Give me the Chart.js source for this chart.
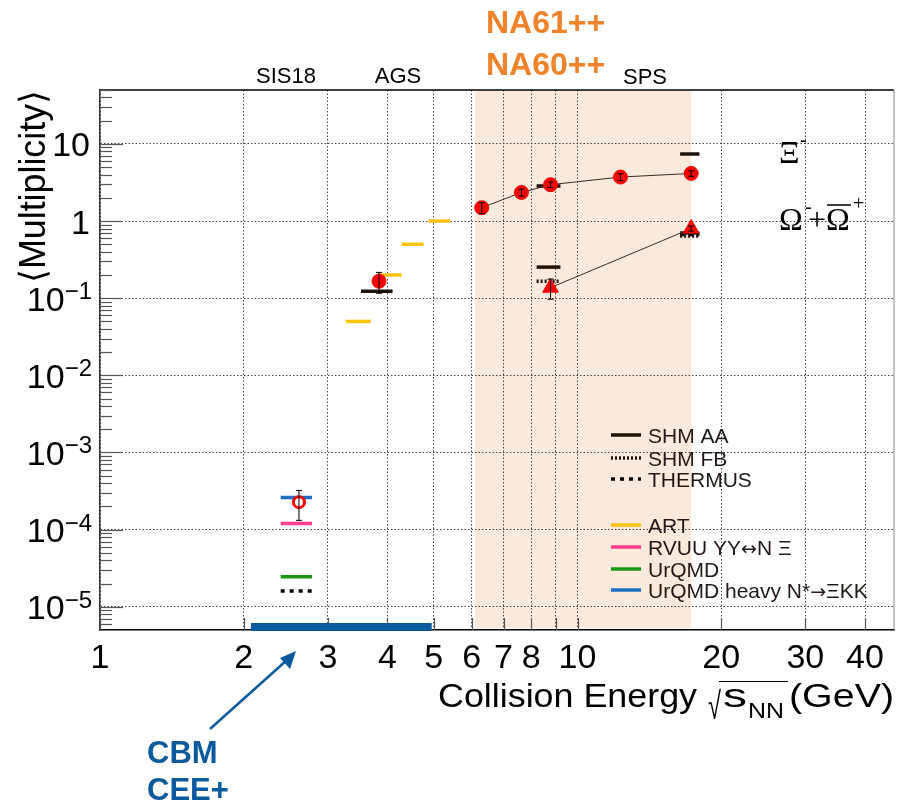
<!DOCTYPE html>
<html>
<head>
<meta charset="utf-8">
<script src="https://cdn.jsdelivr.net/npm/chart.js@4.4.1/dist/chart.umd.min.js"></script>
<style>
html, body { margin: 0; padding: 0; background: #fff; }
#wrap { position: relative; width: 899px; height: 802px; }
</style>
</head>
<body>
<div id="wrap"><canvas id="toile" width="899" height="802"></canvas></div>
<script>
// axis ticks
const xTicks = [1, 2, 3, 4, 5, 6, 7, 8, 9, 10, 20, 30, 40]
const xLabels = ['1', '2', '3', '4', '5', '6', '7', '8', '', '10', '20', '30', '40']
const yDecades = [-5, -4, -3, -2, -1, 0, 1]
const yLabels = ['10', '10', '10', '10', '10', '1', '10']
const ySup = ['\u22125', '\u22124', '\u22123', '\u22122', '\u22121', '', '']

// Xi- measurements (SPS), AGS, SIS18
const xiEnergy = [6.30, 7.63, 8.78, 12.3, 17.3]
const xiValue = [1.49, 2.35, 2.96, 3.72, 4.14]
const xiError = [0.24, 0.25, 0.24, 0.38, 0.34]
const agsEnergy = [3.84]
const agsValue = [0.166]
const agsError = [0.05]
const sisEnergy = [2.61]
const sisValue = [2.27e-4]
const sisError = [0.95e-4]

// Omega- + anti-Omega+ measurements
const omEnergy = [8.78, 17.3]
const omValue = [0.137, 0.80]
const omError = [0.04, 0.06]

// model predictions: [energy from, energy to, multiplicity]
const shmAA = [[3.52, 4.10, 0.123], [8.21, 9.21, 2.85], [16.4, 18.0, 7.4], [8.21, 9.21, 0.253], [16.4, 18.0, 0.70]]
const shmFB = [[8.21, 9.21, 0.166], [16.4, 18.0, 0.64]]
const thermus = [[2.39, 2.78, 1.6e-5], [16.4, 18.0, 0.67]]
const art = [[3.27, 3.69, 0.05], [3.83, 4.28, 0.2], [4.28, 4.76, 0.5], [4.88, 5.42, 1.0]]
const rvuu = [[2.39, 2.78, 1.2e-4]]
const urqmd = [[2.39, 2.78, 2.45e-5]]
const urqmdHeavy = [[2.39, 2.78, 2.6e-4]]

// energy ranges of facilities
const spsRange = [6.1, 17.3]
const cbmRange = [2.07, 4.95]

const SANS = '"Liberation Sans", Arial, sans-serif'
const SERIF = '"Liberation Serif", "Times New Roman", serif'
const RED = '#ff0000'
const BLACK_M = '#1e120b'

const pts = (xs, ys) => xs.map((x, i) => ({ x: x, y: ys[i] }))

const segs = (list, color, dash, width) => list.map(s => ({
  data: [{ x: s[0], y: s[2] }, { x: s[1], y: s[2] }],
  showLine: true,
  borderColor: color,
  borderWidth: width,
  borderDash: dash,
  borderCapStyle: 'butt',
  pointRadius: 0,
  order: 3
}))

const datasets = [
  { data: pts(xiEnergy, xiValue), pointRadius: 7, backgroundColor: RED, borderColor: RED, order: 0 },
  { data: pts(agsEnergy, agsValue), pointRadius: 7, backgroundColor: RED, borderColor: RED, order: 0 },
  { data: pts(sisEnergy, sisValue), pointRadius: 5.5, backgroundColor: '#fff', borderColor: RED, borderWidth: 3, order: 0 },
  { data: pts(omEnergy, omValue), pointStyle: 'triangle', pointRadius: 9, backgroundColor: RED, borderColor: RED, order: 0 },
  { data: pts(xiEnergy, xiValue), showLine: true, pointRadius: 0, borderColor: '#3b2b22', borderWidth: 1, order: 2 },
  { data: pts(omEnergy, omValue), showLine: true, pointRadius: 0, borderColor: '#3b2b22', borderWidth: 1, order: 2 },
  ...segs(shmAA, BLACK_M, [], 3.5),
  ...segs(shmFB, BLACK_M, [2, 2], 3.5),
  ...segs(thermus, '#000', [4, 5], 3.5),
  ...segs(art, '#ffc20e', [], 3.5),
  ...segs(rvuu, '#ff3d8e', [], 3.5),
  ...segs(urqmd, '#17970f', [], 3.5),
  ...segs(urqmdHeavy, '#1f6fc4', [], 3.5)
]

// draws text stretched to a given width
function fitText(ctx, text, x, y, width) {
  const w = ctx.measureText(text).width
  ctx.save()
  ctx.translate(x, y)
  ctx.scale(width / w, 1)
  ctx.fillText(text, 0, 0)
  ctx.restore()
}

// legend text, arrows taken from DejaVu so they are full size
function legendText(ctx, text, x, y) {
  const parts = text.split(/([\u2190-\u21FF])/)
  parts.forEach(p => {
    if (!p) return
    ctx.font = /[\u2190-\u21FF]/.test(p) ? '19px "DejaVu Sans"' : '21px ' + SANS
    ctx.fillText(p, x, y)
    x += ctx.measureText(p).width
  })
}

const decor = {
  id: 'decor',
  beforeDraw(chart) {
    const { ctx, chartArea: a, scales: { x } } = chart
    ctx.save()
    ctx.fillStyle = '#fbe9dc'
    const x0 = x.getPixelForValue(spsRange[0]), x1 = x.getPixelForValue(spsRange[1])
    ctx.fillRect(x0, a.top, x1 - x0, a.bottom - a.top - 2)
    ctx.restore()
  },
  afterDatasetsDraw(chart) {
    const { ctx, scales: { x, y } } = chart
    ctx.save()
    ctx.strokeStyle = '#000'
    ctx.lineWidth = 1
    const bars = (xs, ys, es) => xs.forEach((e, i) => {
      const px = x.getPixelForValue(e)
      const top = y.getPixelForValue(ys[i] + es[i]), bot = y.getPixelForValue(ys[i] - es[i])
      ctx.beginPath()
      ctx.moveTo(px, top); ctx.lineTo(px, bot)
      ctx.moveTo(px - 3, top); ctx.lineTo(px + 3, top)
      ctx.moveTo(px - 3, bot); ctx.lineTo(px + 3, bot)
      ctx.stroke()
    })
    bars(xiEnergy, xiValue, xiError)
    bars(agsEnergy, agsValue, agsError)
    bars(sisEnergy, sisValue, sisError)
    bars(omEnergy, omValue, omError)
    ctx.restore()
  },
  afterDraw(chart) {
    const { ctx, chartArea: a, scales: { x, y } } = chart
    ctx.save()

    // frame top/right
    ctx.strokeStyle = '#000'
    ctx.lineWidth = 1.5
    ctx.beginPath(); ctx.moveTo(a.left, a.top); ctx.lineTo(a.right, a.top); ctx.stroke()
    ctx.strokeStyle = '#888'
    ctx.lineWidth = 1
    ctx.beginPath(); ctx.moveTo(a.right, a.top); ctx.lineTo(a.right, a.bottom); ctx.stroke()

    // y ticks, major and minor
    ctx.strokeStyle = '#555'
    ctx.lineWidth = 1.2
    for (let e = -6; e <= 1; e++) {
      for (let m = 1; m <= 9; m++) {
        const v = m * Math.pow(10, e)
        if (v < y.min || v > y.max) continue
        const py = Math.round(y.getPixelForValue(v)) + 0.5
        ctx.beginPath()
        ctx.moveTo(a.left, py); ctx.lineTo(a.left + (m === 1 ? 23 : 12), py)
        ctx.stroke()
      }
    }
    // x ticks
    xTicks.forEach(v => {
      const px = Math.round(x.getPixelForValue(v)) + 0.5
      ctx.beginPath(); ctx.moveTo(px, a.bottom); ctx.lineTo(px, a.bottom - 12); ctx.stroke()
    })

    // y tick labels with exponents
    ctx.fillStyle = '#000'
    ctx.textBaseline = 'alphabetic'
    yDecades.forEach((e, i) => {
      const py = y.getPixelForValue(Math.pow(10, e))
      ctx.font = '24px ' + SANS
      const ws = ySup[i] ? ctx.measureText(ySup[i]).width : 0
      ctx.font = '34px ' + SANS
      const wm = ctx.measureText(yLabels[i]).width
      const right = ySup[i] ? 92 : 90
      ctx.textAlign = 'left'
      ctx.fillText(yLabels[i], right - ws - wm, py + 12.5)
      if (ySup[i]) {
        ctx.font = '24px ' + SANS
        ctx.fillText(ySup[i], right - ws, py + 1)
      }
    })

    // axis titles
    ctx.font = '36px ' + SANS
    ctx.save()
    ctx.translate(45, 283)
    ctx.rotate(-Math.PI / 2)
    fitText(ctx, '\u27E8Multiplicity\u27E9', 0, 0, 193)
    ctx.restore()

    ctx.font = '34px ' + SANS
    fitText(ctx, 'Collision Energy', 438, 707, 259)
    fitText(ctx, 's', 723, 707, 24)
    fitText(ctx, '(GeV)', 789, 707, 105)
    ctx.font = '22px ' + SANS
    fitText(ctx, 'NN', 748, 718, 36)
    ctx.font = '200 38px "DejaVu Sans", ' + SANS
    fitText(ctx, '\u221A', 708, 719, 13)
    ctx.lineWidth = 1
    ctx.strokeStyle = '#000'
    ctx.beginPath(); ctx.moveTo(719, 681.5); ctx.lineTo(788, 681.5); ctx.stroke()

    // facility labels
    ctx.font = '22px ' + SANS
    ctx.textAlign = 'center'
    ctx.fillText('SIS18', 286, 83)
    ctx.fillText('AGS', 398, 83)
    ctx.fillText('SPS', 645, 84)
    ctx.textAlign = 'left'
    ctx.fillStyle = '#f0822a'
    ctx.font = 'bold 32px ' + SANS
    ctx.fillText('NA61++', 486, 33)
    ctx.fillText('NA60++', 486, 75)

    // particle labels
    ctx.fillStyle = '#000'
    ctx.font = '32px ' + SERIF
    ctx.fillText('\u039E', 779, 163)
    ctx.fillText('\u03A9', 779, 230)
    ctx.fillText('+', 808, 230)
    ctx.fillText('\u03A9', 826, 230)
    ctx.font = '20px ' + SERIF
    ctx.fillText('-', 800, 146)
    ctx.fillText('-', 805, 213)
    ctx.fillText('+', 853, 210)
    ctx.lineWidth = 1.5
    ctx.beginPath(); ctx.moveTo(827, 205); ctx.lineTo(851, 205); ctx.stroke()

    // legend
    const legend = [
      ['SHM AA', BLACK_M, [], 435],
      ['SHM FB', BLACK_M, [2, 2], 458],
      ['THERMUS', '#000', [4, 5], 479],
      ['ART', '#ffc20e', [], 525],
      ['RVUU YY\u2194N \u039E', '#ff3d8e', [], 547],
      ['UrQMD', '#17970f', [], 569],
      ['UrQMD heavy N*\u2192\u039EKK', '#1f6fc4', [], 590]
    ]
    legend.forEach(l => {
      ctx.strokeStyle = l[1]
      ctx.setLineDash(l[2])
      ctx.lineWidth = 3.5
      ctx.beginPath(); ctx.moveTo(611, l[3]); ctx.lineTo(641, l[3]); ctx.stroke()
      ctx.setLineDash([])
      ctx.fillStyle = '#231815'
      legendText(ctx, l[0], 648, l[3] + 7.5)
    })

    // CBM / CEE+ energy range
    ctx.fillStyle = '#0b5a9d'
    const c0 = x.getPixelForValue(cbmRange[0]), c1 = x.getPixelForValue(cbmRange[1])
    ctx.fillRect(c0, a.bottom - 7, c1 - c0, 8)
    ctx.strokeStyle = '#0b5a9d'
    ctx.lineWidth = 2.5
    ctx.beginPath(); ctx.moveTo(210, 729); ctx.lineTo(287, 660); ctx.stroke()
    ctx.beginPath()
    ctx.moveTo(296, 651); ctx.lineTo(280, 658); ctx.lineTo(290, 669); ctx.closePath(); ctx.fill()
    ctx.font = 'bold 31px ' + SANS
    ctx.fillText('CBM', 147, 763)
    ctx.fillText('CEE+', 147, 800)

    ctx.restore()
  }
}

new Chart(document.getElementById('toile'), {
  type: 'scatter',
  data: { datasets: datasets },
  options: {
    responsive: false,
    devicePixelRatio: 1,
    animation: false,
    layout: { autoPadding: false, padding: { top: 90, right: 5, left: 0, bottom: 0 } },
    plugins: { legend: { display: false }, tooltip: { enabled: false } },
    scales: {
      x: {
        type: 'logarithmic',
        min: 1,
        max: 46,
        afterBuildTicks: s => { s.ticks = xTicks.map(v => ({ value: v })) },
        afterFit: s => { s.height = 172; s.paddingLeft = 0; s.paddingRight = 0 },
        ticks: {
          autoSkip: false,
          maxRotation: 0,
          padding: 8,
          color: '#000',
          font: { family: SANS, size: 34 },
          callback: (v, i) => xLabels[i]
        },
        grid: { color: '#444', lineWidth: 1, drawTicks: false },
        border: { display: true, color: '#000', width: 1.5, dash: [1.5, 2] }
      },
      y: {
        type: 'logarithmic',
        min: 5e-6,
        max: 50,
        afterBuildTicks: s => { s.ticks = yDecades.map(e => ({ value: Math.pow(10, e) })) },
        afterFit: s => { s.width = 100; s.paddingTop = 0; s.paddingBottom = 0 },
        ticks: { display: false },
        grid: { color: '#444', lineWidth: 1, drawTicks: false },
        border: { display: true, color: '#333', width: 1.5, dash: [1.5, 2] }
      }
    }
  },
  plugins: [decor]
})
</script>
</body>
</html>
